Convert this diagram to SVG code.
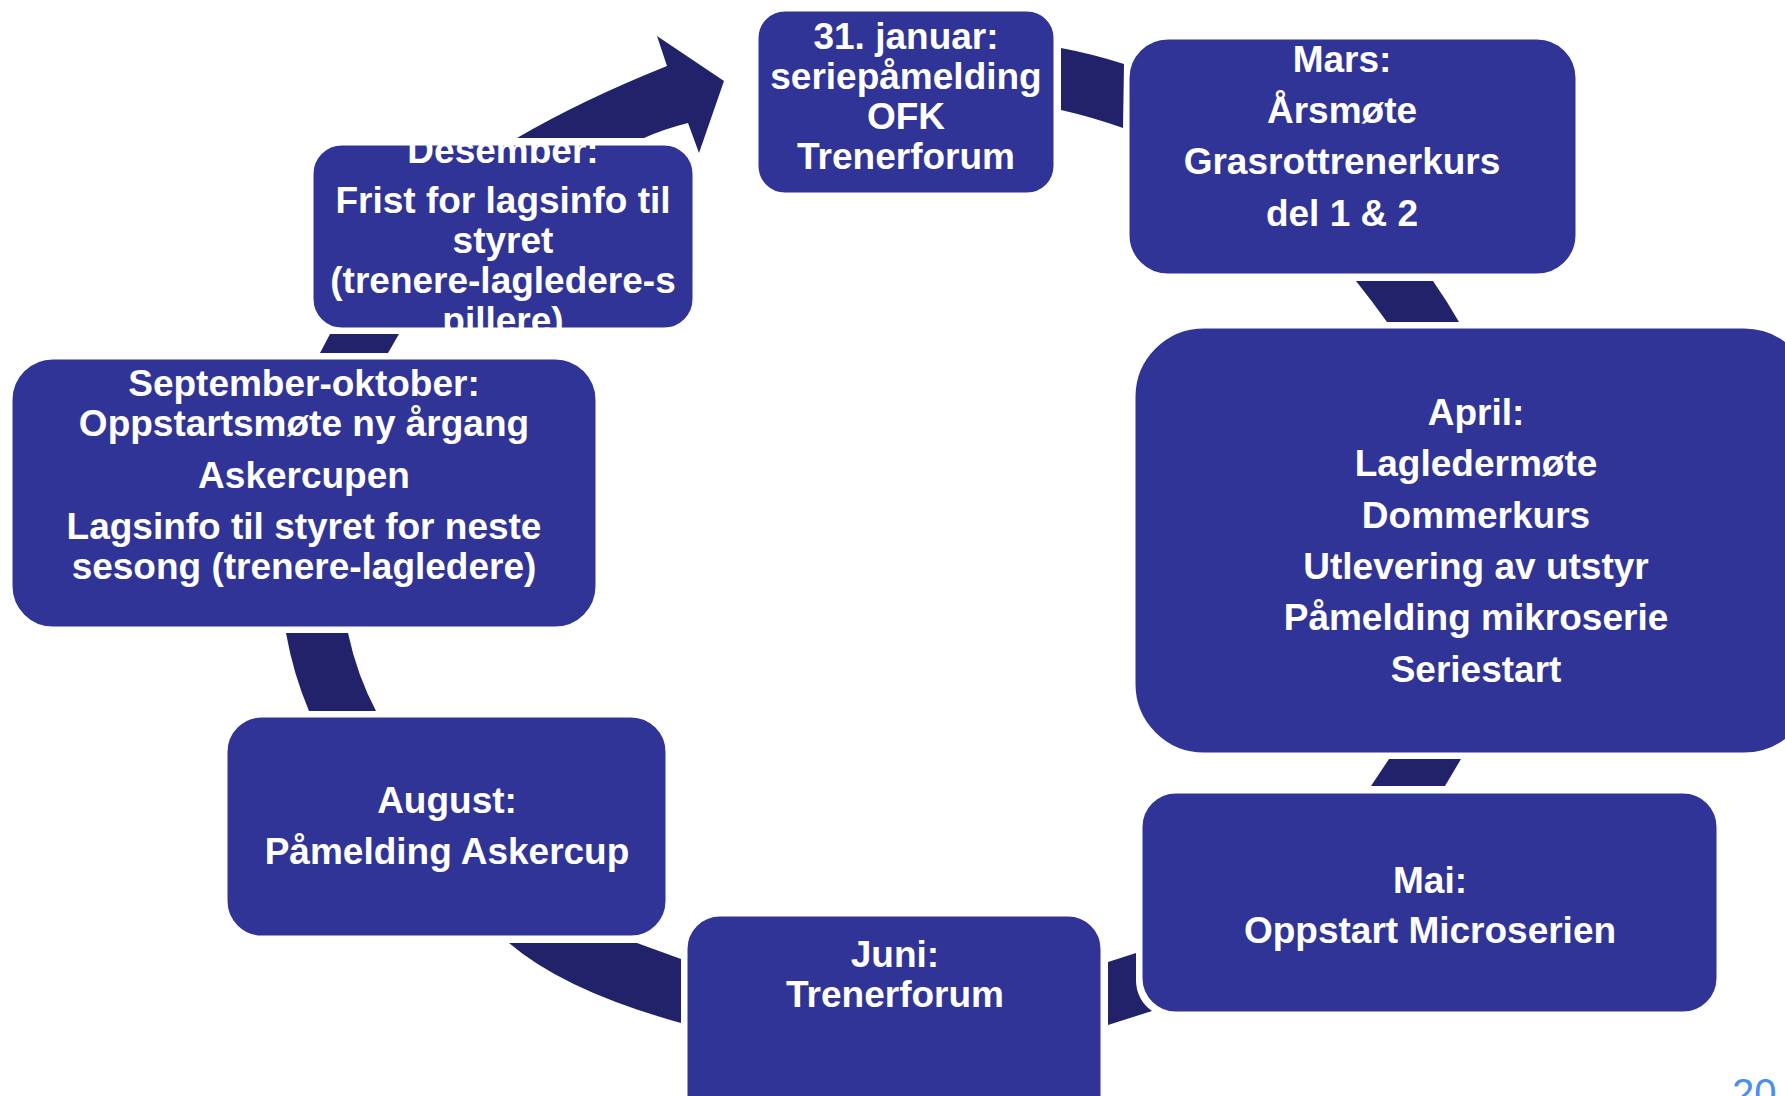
<svg xmlns="http://www.w3.org/2000/svg" width="1785" height="1096" viewBox="0 0 1785 1096">
<defs>
<style>
.box{fill:#313497;stroke:#ffffff;stroke-width:3}
.con{fill:#22226a}
.t{font-family:"Liberation Sans",Arial,sans-serif;font-weight:bold;font-size:37px;fill:#ffffff;text-anchor:middle}
.pg{font-family:"Liberation Sans",Arial,sans-serif;font-size:40px;fill:#4a8ef0}
</style>
<clipPath id="clipDes"><rect x="312" y="144" width="382" height="185" rx="30"/></clipPath>
</defs>
<rect width="1785" height="1096" fill="#ffffff"/>
<g id="connectors">
<path class="con" d="M517,138 Q582,100 667,66 L657,36 L724,81 L699,153 L688,123 Q664,129 644,138 Z"/>
<path class="con" d="M1061,48 Q1093,54 1124,64 L1123,128 Q1092,117 1061,110 Z"/>
<path class="con" d="M1356,281 L1433,281 Q1447,301 1459,322 L1387,322 Q1372,301 1356,281 Z"/>
<path class="con" d="M1389,759 L1461,759 L1445,786 L1371,786 Z"/>
<path class="con" d="M1108,962 L1136,953 L1136,981 A37,37 0 0 0 1152,1011 L1108,1025 Z"/>
<path class="con" d="M509,943 L637,943 L681,959 L681,1023 Q565,991 509,943 Z"/>
<path class="con" d="M286,633 L348,633 Q357,675 376,711 L309,711 Q293,673 286,633 Z"/>
<path class="con" d="M330,334 L399,334 L388,353 L320,353 Z"/>
</g>
<g id="jan">
<rect class="box" x="757" y="10" width="298" height="184" rx="28"/>
<text class="t" x="906" y="49">31. januar:</text>
<text class="t" x="906" y="89">seriepåmelding</text>
<text class="t" x="906" y="129">OFK</text>
<text class="t" x="906" y="169">Trenerforum</text>
</g>
<g id="mars">
<rect class="box" x="1128" y="38" width="449" height="237" rx="40"/>
<text class="t" x="1342" y="72">Mars:</text>
<text class="t" x="1342" y="123">Årsmøte</text>
<text class="t" x="1342" y="174">Grasrottrenerkurs</text>
<text class="t" x="1342" y="226">del 1 &amp; 2</text>
</g>
<g id="april">
<rect class="box" x="1134" y="327" width="680" height="427" rx="70"/>
<text class="t" x="1476" y="425">April:</text>
<text class="t" x="1476" y="476">Lagledermøte</text>
<text class="t" x="1476" y="528">Dommerkurs</text>
<text class="t" x="1476" y="579">Utlevering av utstyr</text>
<text class="t" x="1476" y="630">Påmelding mikroserie</text>
<text class="t" x="1476" y="682">Seriestart</text>
</g>
<g id="mai">
<rect class="box" x="1141" y="792" width="577" height="221" rx="35"/>
<text class="t" x="1430" y="893">Mai:</text>
<text class="t" x="1430" y="943">Oppstart Microserien</text>
</g>
<g id="juni">
<rect class="box" x="686" y="915" width="416" height="220" rx="34"/>
<text class="t" x="895" y="967">Juni:</text>
<text class="t" x="895" y="1007">Trenerforum</text>
</g>
<g id="august">
<rect class="box" x="226" y="716" width="441" height="221" rx="36"/>
<text class="t" x="447" y="813">August:</text>
<text class="t" x="447" y="864">Påmelding Askercup</text>
</g>
<g id="sep-okt">
<rect class="box" x="11" y="358" width="586" height="270" rx="42"/>
<text class="t" x="304" y="396">September-oktober:</text>
<text class="t" x="304" y="436">Oppstartsmøte ny årgang</text>
<text class="t" x="304" y="488">Askercupen</text>
<text class="t" x="304" y="539">Lagsinfo til styret for neste</text>
<text class="t" x="304" y="579">sesong (trenere-lagledere)</text>
</g>
<g id="desember">
<rect class="box" x="312" y="144" width="382" height="185" rx="30"/>
<g clip-path="url(#clipDes)">
<text class="t" x="503" y="163">Desember:</text>
<text class="t" x="503" y="213">Frist for lagsinfo til</text>
<text class="t" x="503" y="253">styret</text>
<text class="t" x="503" y="293">(trenere-lagledere-s</text>
<text class="t" x="503" y="333">pillere)</text>
</g>
</g>
<text class="pg" x="1732" y="1107">20</text>
</svg>
